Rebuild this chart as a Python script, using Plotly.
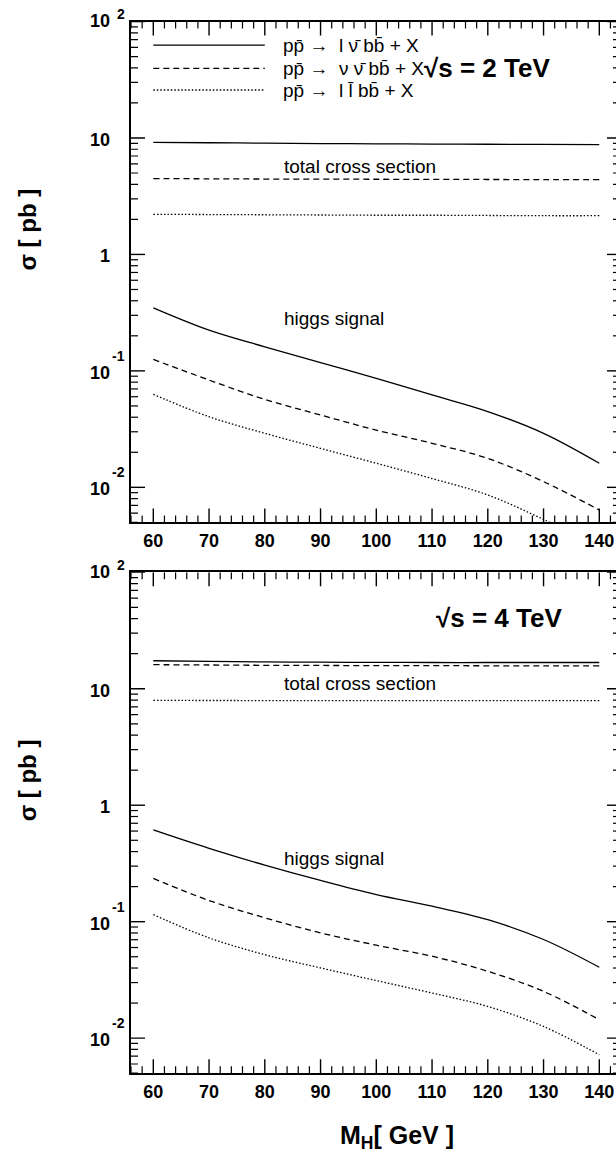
import math
import plotly.graph_objects as go

# Higgs mass points [GeV]
mass = [60, 70, 80, 90, 100, 110, 120, 130, 140]

# sqrt(s) = 2 TeV : total cross sections [pb]
tot_lnubb_2 = [9.18, 9.10, 9.02, 8.95, 8.90, 8.86, 8.83, 8.80, 8.78]
tot_nunubb_2 = [4.48, 4.46, 4.44, 4.43, 4.42, 4.41, 4.40, 4.39, 4.38]
tot_llbb_2 = [2.21, 2.20, 2.19, 2.18, 2.17, 2.17, 2.16, 2.15, 2.15]
# sqrt(s) = 2 TeV : higgs signal [pb]
sig_lnubb_2 = [0.348, 0.224, 0.161, 0.118, 0.0863, 0.0621, 0.0447, 0.0291, 0.0161]
sig_nunubb_2 = [0.1256, 0.0834, 0.0569, 0.0418, 0.0310, 0.0239, 0.0177, 0.0112, 0.00639]
sig_llbb_2 = [0.0629, 0.0404, 0.0291, 0.0216, 0.0161, 0.0119, 0.0086, 0.0053, 0.0031]

# sqrt(s) = 4 TeV : total cross sections [pb]
tot_lnubb_4 = [17.4, 17.2, 17.0, 16.9, 16.85, 16.8, 16.8, 16.8, 16.8]
tot_nunubb_4 = [16.1, 16.0, 15.9, 15.85, 15.8, 15.8, 15.75, 15.7, 15.7]
tot_llbb_4 = [7.94, 7.93, 7.92, 7.92, 7.91, 7.91, 7.90, 7.90, 7.90]
# sqrt(s) = 4 TeV : higgs signal [pb]
sig_lnubb_4 = [0.613, 0.426, 0.306, 0.226, 0.171, 0.136, 0.104, 0.0703, 0.0406]
sig_nunubb_4 = [0.235, 0.152, 0.108, 0.0802, 0.0628, 0.0505, 0.0375, 0.0252, 0.0144]
sig_llbb_4 = [0.115, 0.0726, 0.0521, 0.0401, 0.0312, 0.0244, 0.0187, 0.0126, 0.0072]

# axis ticks
x_ticks = [60, 70, 80, 90, 100, 110, 120, 130, 140]
x_minor = [v for v in range(56, 144, 2) if v % 10 != 0]
y_ticks = [0.01, 0.1, 1, 10, 100]
y_tick_base = ["10", "10", "1", "10", "10"]
y_tick_exp = ["-2", "-1", "", "", "2"]
y_minor = [m * 10.0 ** e for e in range(-3, 2) for m in range(2, 10)]

# legend entries
proc_labels = [
    "pp\u0304 \u2192  l \u03bd\u0304 bb\u0304 + X",
    "pp\u0304 \u2192  \u03bd \u03bd\u0304 bb\u0304 + X",
    "pp\u0304 \u2192  l l\u0304 bb\u0304 + X",
]
key_x = [60, 80]
key_y = [62.8, 39.6, 25.8]

W, H = 616, 1157
ML = 131
PW = W - ML
PX_PER_GEV = 5.575
X_RANGE = [56, 56 + PW / PX_PER_GEV]
Y_MIN, Y_MAX = 0.005, 100
Y_RANGE = [math.log10(Y_MIN), math.log10(Y_MAX)]
TOP_DOM = [1 - 522.4 / H, 1 - 21.5 / H]
BOT_DOM = [1 - 1073.2 / H, 1 - 572.3 / H]
PX_PER_DECADE = (TOP_DOM[1] - TOP_DOM[0]) * H / (Y_RANGE[1] - Y_RANGE[0])

FONT = "Liberation Sans, Arial, Helvetica, sans-serif"
styles = [
    dict(color="black", width=1.3),
    dict(color="black", width=1.3, dash="6px,4px"),
    dict(color="black", width=1.3, dash="1.5px,2px"),
]

fig = go.Figure()

panels = [
    ("x", "y", [tot_lnubb_2, tot_nunubb_2, tot_llbb_2], [sig_lnubb_2, sig_nunubb_2, sig_llbb_2]),
    ("x2", "y2", [tot_lnubb_4, tot_nunubb_4, tot_llbb_4], [sig_lnubb_4, sig_nunubb_4, sig_llbb_4]),
]
for xa, ya, tots, sigs in panels:
    for series_set in (tots, sigs):
        for vals, st in zip(series_set, styles):
            fig.add_trace(go.Scatter(x=mass, y=vals, mode="lines",
                                     line=dict(shape="spline", smoothing=1.0, **st),
                                     xaxis=xa, yaxis=ya, showlegend=False, hoverinfo="skip"))

# legend keys in the upper panel
for ky, st in zip(key_y, styles):
    fig.add_trace(go.Scatter(x=key_x, y=[ky, ky], mode="lines", line=st, xaxis="x", yaxis="y",
                             showlegend=False, hoverinfo="skip"))


# tick marks pointing inward from the frame, as line shapes on the data axes
def tick_shapes(xa, ya):
    out = []
    for vals, length, w in ((x_ticks, 14, 1.4), (x_minor, 7, 1.2)):
        step = 10 ** (length / PX_PER_DECADE)
        for v in vals:
            for y0, y1 in ((Y_MIN, Y_MIN * step), (Y_MAX / step, Y_MAX)):
                out.append(dict(type="line", xref=xa, yref=ya, x0=v, x1=v, y0=y0, y1=y1,
                                line=dict(color="black", width=w)))
    for vals, llen, rlen, w in ((y_ticks, 14, 9, 1.4), (y_minor, 7, 3, 1.2)):
        for v in vals:
            if v < Y_MIN * 0.999 or v > Y_MAX * 1.001:
                continue
            for x0, x1 in ((X_RANGE[0], X_RANGE[0] + llen / PX_PER_GEV),
                           (X_RANGE[1] - rlen / PX_PER_GEV, X_RANGE[1])):
                out.append(dict(type="line", xref=xa, yref=ya, x0=x0, x1=x1, y0=v, y1=v,
                                line=dict(color="black", width=w)))
    return out


shapes = tick_shapes("x", "y") + tick_shapes("x2", "y2")


def x_axis(anchor):
    return dict(
        domain=[0, 1], anchor=anchor, range=X_RANGE, showgrid=False, zeroline=False,
        showline=True, linecolor="black", linewidth=1.6, mirror=True, ticks="",
        tickmode="array", tickvals=x_ticks, ticktext=[str(v) for v in x_ticks],
        tickfont=dict(family=FONT, size=18, color="black", weight="bold"),
        ticklabelstandoff=1,
    )


def y_axis(dom, anchor):
    return dict(
        type="log", domain=dom, anchor=anchor, range=Y_RANGE, showgrid=False, zeroline=False,
        showline=True, linecolor="black", linewidth=1.6, ticks="",
        tickmode="array", tickvals=y_ticks, showticklabels=False,
    )


def px_x(px):
    return (px - ML) / PW


ann = []
for ya in ("y", "y2"):
    for v, b, e in zip(y_ticks, y_tick_base, y_tick_exp):
        shift = 0 if v == 100 else -2
        ann.append(dict(x=px_x(112), xref="paper", y=math.log10(v), yref=ya, text=b, showarrow=False,
                        xanchor="right", yanchor="middle", yshift=shift,
                        font=dict(family=FONT, size=18, color="black", weight="bold")))
        if e:
            ann.append(dict(x=px_x(127), xref="paper", y=math.log10(v), yref=ya, text=e, showarrow=False,
                            xanchor="right", yanchor="middle", yshift=7.5 if v == 100 else 15,
                            font=dict(family=FONT, size=14, color="black", weight="bold")))

txt_font = dict(family=FONT, size=19, color="black")
for lbl, ky in zip(proc_labels, key_y):
    ann.append(dict(x=82.9, xref="x", y=math.log10(ky), yref="y", text=lbl, showarrow=False,
                    xanchor="left", yanchor="middle", font=txt_font))

big_bold = dict(family=FONT, size=26, color="black", weight="bold")
ann += [
    dict(x=108.2, xref="x", y=math.log10(39.6), yref="y", text="\u221as = 2 TeV", showarrow=False,
         xanchor="left", yanchor="middle", font=big_bold),
    dict(x=110.3, xref="x2", y=math.log10(40.3), yref="y2", text="\u221as = 4 TeV", showarrow=False,
         xanchor="left", yanchor="middle", font=big_bold),
    dict(x=83.1, xref="x", y=math.log10(5.66), yref="y", text="total cross section", showarrow=False,
         xanchor="left", yanchor="middle", font=txt_font),
    dict(x=83.1, xref="x2", y=math.log10(11.0), yref="y2", text="total cross section", showarrow=False,
         xanchor="left", yanchor="middle", font=txt_font),
    dict(x=83.1, xref="x", y=math.log10(0.2825), yref="y", text="higgs signal", showarrow=False,
         xanchor="left", yanchor="middle", font=txt_font),
    dict(x=83.1, xref="x2", y=math.log10(0.35), yref="y2", text="higgs signal", showarrow=False,
         xanchor="left", yanchor="middle", font=txt_font),
    dict(x=px_x(27), xref="paper", y=1 - 229.5 / H, yref="paper", text="\u03c3 [ pb ]", showarrow=False,
         textangle=-90, xanchor="center", yanchor="middle",
         font=dict(family=FONT, size=24, color="black", weight="bold")),
    dict(x=px_x(27), xref="paper", y=1 - 780.3 / H, yref="paper", text="\u03c3 [ pb ]", showarrow=False,
         textangle=-90, xanchor="center", yanchor="middle",
         font=dict(family=FONT, size=24, color="black", weight="bold")),
    dict(x=px_x(397), xref="paper", y=1 - 1136.7 / H, yref="paper", text="M<sub>H</sub>[ GeV ]",
         showarrow=False, xanchor="center", yanchor="middle",
         font=dict(family=FONT, size=25, color="black", weight="bold")),
]

fig.update_layout(
    width=W, height=H, margin=dict(l=ML, r=0, t=0, b=0, autoexpand=False),
    paper_bgcolor="white", plot_bgcolor="white", showlegend=False,
    xaxis=x_axis("y"), yaxis=y_axis(TOP_DOM, "x"),
    xaxis2=x_axis("y2"), yaxis2=y_axis(BOT_DOM, "x2"),
    annotations=ann, shapes=shapes,
)

fig.write_html("out.html")
